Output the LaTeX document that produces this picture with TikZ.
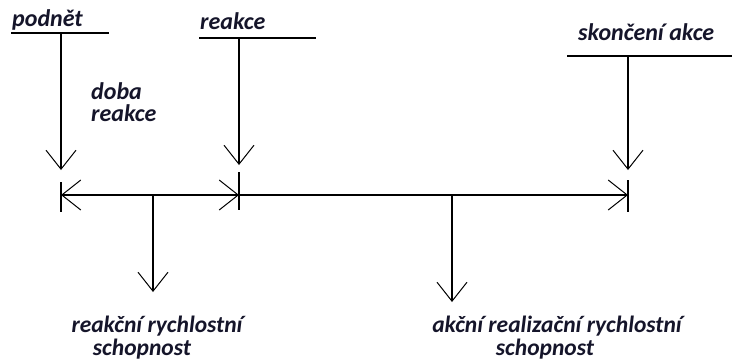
\documentclass[tikz,border=0pt]{standalone}
\usepackage{fontspec}
\newfontfamily\lblfont{Carlito Bold Italic}
\usetikzlibrary{arrows.meta}
\definecolor{txt}{HTML}{15152A}
\tikzset{
  lbl/.style={font=\lblfont\fontsize{24}{26}\selectfont, text=txt, inner sep=0pt, text height=13pt, text depth=4pt},
  lblb/.style={lbl, font=\lblfont\fontsize{23.5}{26}\selectfont, text height=12pt, text depth=3pt},
  ln/.style={line width=1.2pt, black},
  arr/.style={ln, -{Straight Barb[length=19pt,width=30pt,line width=1pt]}},
}
\begin{document}
\begin{tikzpicture}[x=1pt,y=-1pt]
\useasboundingbox (0,0) rectangle (732,360);
% labels on top
\node[lbl, anchor=base west] (podnet) at (12,26) {podnět};
\node[lbl, anchor=base west] (reakce) at (200,29) {reakce};
\node[lbl, anchor=base west] (skonceni) at (578,40) {skončení akce};
\node[lbl, anchor=base west] (doba1) at (91,99) {doba};
\node[lbl, anchor=base west] (doba2) at (91,121) {reakce};
% underline coordinates
\coordinate (u1a) at (11,33); \coordinate (u1b) at (109,33);
\coordinate (u2a) at (199,38); \coordinate (u2b) at (316,38);
\coordinate (u3a) at (567,56); \coordinate (u3b) at (732,56);
\draw[ln] (u1a) -- (u1b);
\draw[ln] (u2a) -- (u2b);
\draw[ln] (u3a) -- (u3b);
% down arrows
\coordinate (d1s) at (61,33); \coordinate (d1e) at (61,170);
\coordinate (d2s) at (239,38); \coordinate (d2e) at (239,165);
\coordinate (d3s) at (628,56); \coordinate (d3e) at (628,170);
\draw[arr] (d1s) -- (d1e);
\draw[arr] (d2s) -- (d2e);
\draw[arr] (d3s) -- (d3e);
% time line
\coordinate (tA) at (61,195); \coordinate (tB) at (239,195); \coordinate (tC) at (628,195);
\draw[ln, {Straight Barb[length=19pt,width=30pt,line width=1pt]}-{Straight Barb[length=19pt,width=30pt,line width=1pt]}] (tA) -- (tB);
\draw[arr] (tB) -- (tC);
% ticks
\coordinate (k1a) at (61,182); \coordinate (k1b) at (61,212);
\coordinate (k2a) at (239,172); \coordinate (k2b) at (239,210);
\coordinate (k3a) at (628,180); \coordinate (k3b) at (628,212);
\draw[ln] (k1a) -- (k1b);
\draw[ln] (k2a) -- (k2b);
\draw[ln] (k3a) -- (k3b);
% lower arrows
\coordinate (m1s) at (153,195); \coordinate (m1e) at (153,292);
\coordinate (m2s) at (452,195); \coordinate (m2e) at (452,302);
\draw[arr] (m1s) -- (m1e);
\draw[arr] (m2s) -- (m2e);
% bottom labels
\node[lblb, anchor=base] (r1a) at (157,332) {reakční rychlostní};
\node[lblb, anchor=base] (r1b) at (142,355) {schopnost};
\node[lblb, anchor=base] (r2a) at (557,332) {akční realizační rychlostní};
\node[lblb, anchor=base] (r2b) at (545,355.5) {schopnost};
\end{tikzpicture}
\end{document}
